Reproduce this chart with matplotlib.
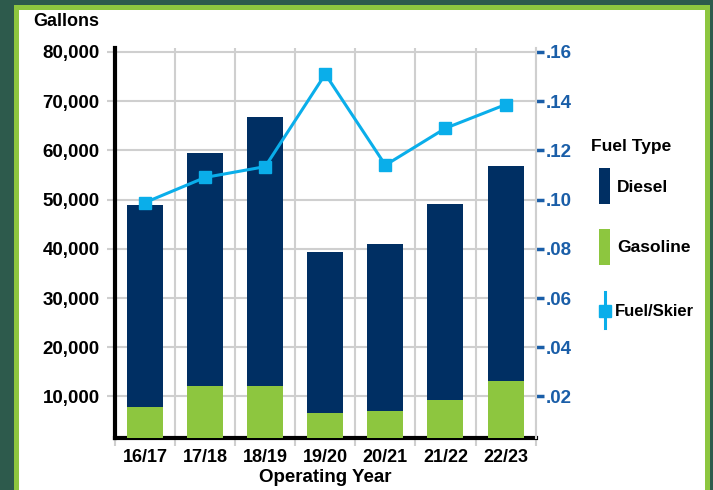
import numpy as np
import matplotlib
matplotlib.use("Agg")
import matplotlib.pyplot as plt
from matplotlib.patches import Rectangle
from matplotlib.lines import Line2D
from matplotlib.ticker import FuncFormatter

# ---------------------------------------------------------------- data
years = ["16/17", "17/18", "18/19", "19/20", "20/21", "21/22", "22/23"]
total_gal = [48800, 59550, 66870, 39430, 41060, 49190, 56900]
gasoline = [7790, 12050, 12200, 6700, 7110, 9350, 13070]
diesel = [t - g for t, g in zip(total_gal, gasoline)]
fuel_per_skier = [0.0988, 0.1090, 0.1134, 0.1510, 0.1140, 0.1290, 0.1386]

NAVY = "#002f63"
GREEN = "#8dc63f"
CYAN = "#0aaeea"
TICKBLUE = "#1a5ea8"
GRID = "#cfcfcf"

plt.rcParams['font.family'] = ['Liberation Sans', 'DejaVu Sans']

fig = plt.figure(figsize=(7.13, 4.90), dpi=100)
fig.patch.set_facecolor("#1f4b3b")

# frame: dark background, green border, white panel
W, H = 713.0, 490.0
fig.add_artist(Rectangle((0, 0), 1, 1, transform=fig.transFigure,
                         facecolor="#2d5a4c", edgecolor="none", zorder=-3))
fig.add_artist(Rectangle((14 / W, 0), (710 - 14) / W, (490 - 5) / H,
                         transform=fig.transFigure, facecolor=GREEN,
                         edgecolor="none", zorder=-2))
fig.add_artist(Rectangle((19 / W, 0), (705 - 19) / W, (490 - 10) / H,
                         transform=fig.transFigure, facecolor="white",
                         edgecolor="none", zorder=-1))

ax = fig.add_axes([115 / W, 1 - 438 / H, (535.6 - 115) / W, (438 - 48) / H])
ax.set_facecolor("none")
x = np.arange(len(years))

ax.bar(x, gasoline, width=0.6, color=GREEN, zorder=3)
ax.bar(x, diesel, width=0.6, bottom=gasoline, color=NAVY, zorder=3)

ylo, yhi = 1560, 80800
ax.set_ylim(ylo, yhi)
ax.set_xlim(-0.5, 6.5)
ax.set_yticks(np.arange(10000, 80001, 10000))
ax.yaxis.set_major_formatter(FuncFormatter(lambda v, p: f"{int(v):,}"))
ax.set_xticks(x)
ax.set_xticklabels(years)
ax.set_xticks(np.arange(-0.5, 7, 1), minor=True)

ax.grid(True, axis="y", color=GRID, linewidth=1.5, zorder=0)
ax.grid(True, axis="x", which="minor", color=GRID, linewidth=1.5, zorder=0)
ax.tick_params(axis="x", which="major", length=0, pad=8, labelsize=13)
ax.tick_params(axis="x", which="minor", length=6, color=GRID, width=1.5)
ax.tick_params(axis="y", length=6, color=GRID, width=1.5, pad=5, labelsize=13.5)
for lab in ax.get_xticklabels() + ax.get_yticklabels():
    lab.set_fontweight("bold")

for s in ["top", "right"]:
    ax.spines[s].set_visible(False)
ax.spines["left"].set_linewidth(3)
ax.spines["bottom"].set_linewidth(3)

ax.set_xlabel("Operating Year", fontsize=13.5, fontweight="bold", labelpad=2)

# right axis
ax2 = ax.twinx()
ax2.set_ylim(ylo / 500000, yhi / 500000)
ax2.plot(x, fuel_per_skier, color=CYAN, linewidth=2.2, marker="s",
         markersize=9, zorder=5)
ax2.set_yticks(np.arange(0.02, 0.161, 0.02))
ax2.yaxis.set_major_formatter(FuncFormatter(lambda v, p: f"{v:.2f}".lstrip("0")))
ax2.tick_params(axis="y", length=6, width=2.5, color=TICKBLUE,
                labelcolor=TICKBLUE, labelsize=13.5, pad=1)
for lab in ax2.get_yticklabels():
    lab.set_fontweight("bold")
for s in ["top", "left", "bottom"]:
    ax2.spines[s].set_visible(False)
ax2.spines["right"].set_color(GRID)
ax2.spines["right"].set_linewidth(1.5)

fig.text(33 / W, 1 - 22 / H, "Gallons", fontsize=13, fontweight="bold",
         va="center", ha="left")

# legend drawn by hand
fig.text(591 / W, 1 - 146 / H, "Fuel Type", fontsize=12.5, fontweight="bold",
         va="center", ha="left")
fig.add_artist(Rectangle((599 / W, 1 - 204 / H), 11 / W, 36 / H,
                         transform=fig.transFigure, facecolor=NAVY, edgecolor="none"))
fig.text(617 / W, 1 - 187 / H, "Diesel", fontsize=12.5, fontweight="bold",
         va="center", ha="left")
fig.add_artist(Rectangle((599 / W, 1 - 265 / H), 11 / W, 36 / H,
                         transform=fig.transFigure, facecolor=GREEN, edgecolor="none"))
fig.text(617 / W, 1 - 248 / H, "Gasoline", fontsize=12.5, fontweight="bold",
         va="center", ha="left")
fig.add_artist(Line2D([604.5 / W, 604.5 / W], [1 - 292 / H, 1 - 328 / H],
                      transform=fig.transFigure, color=CYAN, linewidth=2.2,
                      marker=None))
fig.add_artist(Line2D([604.5 / W], [1 - 311 / H], transform=fig.transFigure,
                      color=CYAN, marker="s", markersize=9, linestyle="none"))
fig.text(615 / W, 1 - 312 / H, "Fuel/Skier", fontsize=12, fontweight="bold",
         va="center", ha="left")

fig.savefig("out.png", dpi=100, facecolor=fig.get_facecolor())
